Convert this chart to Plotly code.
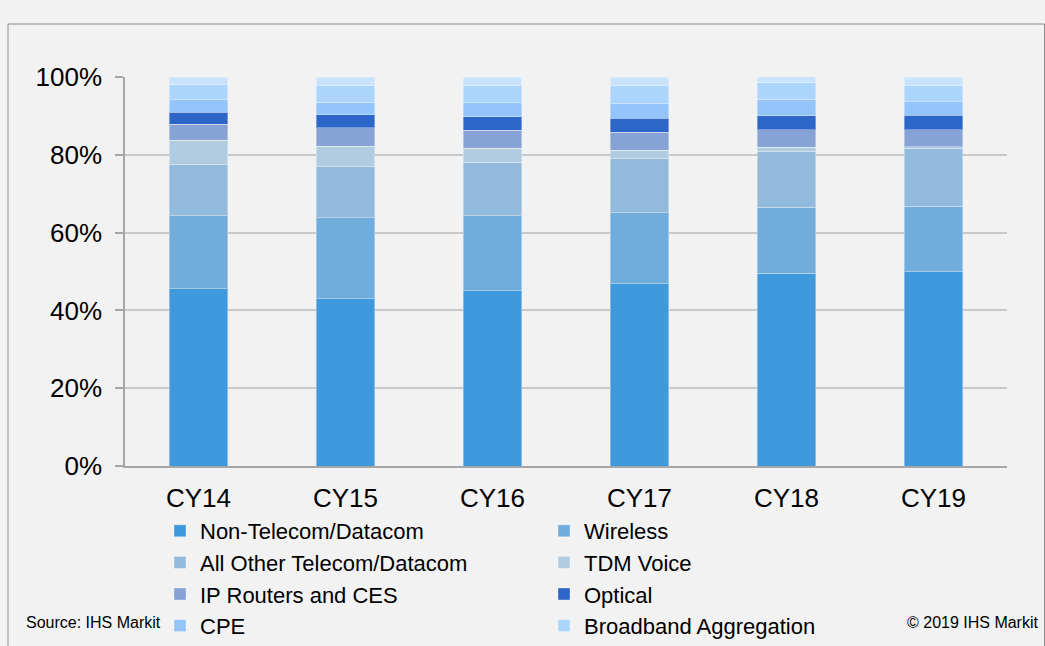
import plotly.graph_objects as go

years = ["CY14", "CY15", "CY16", "CY17", "CY18", "CY19"]

non_telecom = [45.6, 43.0, 45.0, 46.9, 49.5, 50.0]
wireless = [18.7, 20.8, 19.3, 18.2, 17.0, 16.8]
all_other = [13.3, 13.3, 13.8, 14.0, 14.4, 14.9]
tdm_voice = [6.2, 5.1, 3.6, 2.1, 1.0, 0.4]
ip_routers = [4.1, 4.7, 4.6, 4.6, 4.5, 4.3]
optical = [3.1, 3.4, 3.5, 3.6, 3.6, 3.8]
cpe = [3.1, 3.2, 3.6, 3.7, 4.3, 3.4]
broadband = [4.1, 4.2, 4.3, 4.8, 4.3, 4.3]
remainder = [1.8, 2.3, 2.3, 2.1, 2.1, 2.1]

series = [
    ("Non-Telecom/Datacom", non_telecom, "#4199dd", True),
    ("Wireless", wireless, "#70acdc", True),
    ("All Other Telecom/Datacom", all_other, "#91badd", True),
    ("TDM Voice", tdm_voice, "#b1cbe0", True),
    ("IP Routers and CES", ip_routers, "#87a3d5", True),
    ("Optical", optical, "#2d66c9", True),
    ("CPE", cpe, "#93c4fa", True),
    ("Broadband Aggregation", broadband, "#abd5fc", True),
    ("Other", remainder, "#c8e3fb", False),
]

fig = go.Figure()
for name, vals, color, show in series:
    fig.add_trace(go.Bar(
        x=years, y=[v / 100 for v in vals], name=name,
        marker=dict(color=color, line=dict(color="rgba(255,255,255,0.35)", width=1)),
        showlegend=show,
    ))

W, H = 1045, 646
L, R, T, B = 125, 38, 77, 180
pw, ph = W - L - R, H - T - B

def px(x):
    return (x - L) / pw

def py(y):
    return (H - B - y) / ph

fig.update_layout(
    width=W, height=H,
    barmode="stack", bargap=0.6,
    paper_bgcolor="#f2f2f2", plot_bgcolor="#f2f2f2",
    margin=dict(l=L, r=R, t=T, b=B, pad=0, autoexpand=False),
    font=dict(family="Liberation Sans, Arial, sans-serif", color="#000000", size=26),
    legend=dict(
        orientation="h", traceorder="normal",
        x=px(160), xanchor="left", y=py(510), yanchor="top",
        entrywidth=339, entrywidthmode="pixels",
        font=dict(size=22), bgcolor="rgba(0,0,0,0)",
        itemclick=False,
    ),
    xaxis=dict(
        showgrid=False, showline=True, linecolor="#a6a6a6", linewidth=1.5,
        ticks="", tickfont=dict(size=26), ticklabelstandoff=8,
    ),
    yaxis=dict(
        range=[0, 1], tickvals=[0, 0.2, 0.4, 0.6, 0.8, 1.0], tickformat=".0%",
        showgrid=True, gridcolor="#c9c9c9", gridwidth=1.5,
        showline=True, linecolor="#a6a6a6", linewidth=1.5,
        ticks="outside", ticklen=8, tickcolor="#a6a6a6", tickwidth=1.5,
        tickfont=dict(size=26), ticklabelstandoff=8, zeroline=False,
    ),
    shapes=[dict(
        type="rect", xref="paper", yref="paper",
        x0=px(8), x1=px(1044.5), y0=py(660), y1=py(24),
        line=dict(color="#8c8c8c", width=1), fillcolor="rgba(0,0,0,0)", layer="below",
    )],
    annotations=[
        dict(text="Source: IHS Markit", xref="paper", yref="paper",
             x=px(24), y=py(622), xanchor="left", yanchor="middle",
             showarrow=False, font=dict(size=16)),
        dict(text="© 2019 IHS Markit", xref="paper", yref="paper",
             x=px(1041), y=py(622), xanchor="right", yanchor="middle",
             showarrow=False, font=dict(size=16)),
    ],
)

fig.write_html("out.html", config={"displayModeBar": False},
               post_script="document.body.style.margin='0';")
